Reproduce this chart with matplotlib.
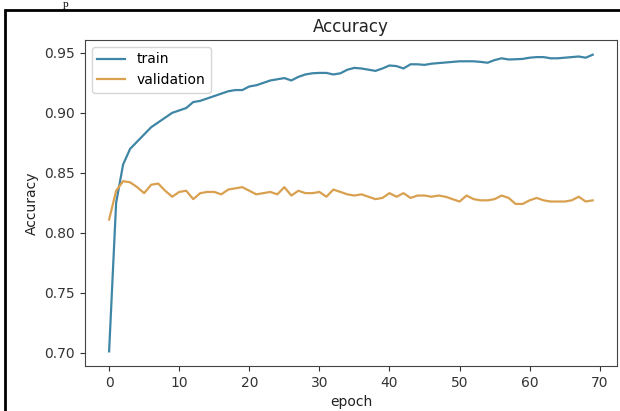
import matplotlib
matplotlib.use("Agg")
import matplotlib.pyplot as plt
from matplotlib.patches import Rectangle

epochs = list(range(70))
train = [0.701, 0.825, 0.857, 0.870, 0.876, 0.882, 0.888, 0.892, 0.896, 0.900,
         0.902, 0.904, 0.909, 0.910, 0.912, 0.914, 0.916, 0.918, 0.919, 0.919,
         0.922, 0.923, 0.925, 0.927, 0.928, 0.929, 0.927, 0.930, 0.932, 0.933,
         0.9333, 0.9333, 0.932, 0.933, 0.936, 0.9375, 0.937, 0.936, 0.935, 0.937,
         0.9395, 0.939, 0.937, 0.9405, 0.9405, 0.940, 0.941, 0.9415, 0.942, 0.9425,
         0.943, 0.943, 0.943, 0.9425, 0.9418, 0.944, 0.9455, 0.9445, 0.9447, 0.945,
         0.946, 0.9465, 0.9465, 0.9455, 0.9455, 0.946, 0.9465, 0.947, 0.946, 0.9485]
validation = [0.811, 0.835, 0.843, 0.842, 0.838, 0.833, 0.840, 0.841, 0.835, 0.830,
              0.834, 0.835, 0.828, 0.833, 0.834, 0.834, 0.832, 0.836, 0.837, 0.838,
              0.835, 0.832, 0.833, 0.834, 0.832, 0.838, 0.831, 0.835, 0.833, 0.833,
              0.834, 0.830, 0.836, 0.834, 0.832, 0.831, 0.832, 0.830, 0.828, 0.829,
              0.833, 0.830, 0.833, 0.829, 0.831, 0.831, 0.830, 0.831, 0.830, 0.828,
              0.826, 0.831, 0.828, 0.827, 0.827, 0.828, 0.831, 0.829, 0.824, 0.824,
              0.827, 0.829, 0.827, 0.826, 0.826, 0.826, 0.827, 0.830, 0.826, 0.827]

fig = plt.figure(figsize=(6.2, 4.11), dpi=100)
ax = fig.add_axes([0.137, 0.109, 0.858, 0.794])
ax.plot(epochs, train, color="#3f86a6", lw=1.6, label="train")
ax.plot(epochs, validation, color="#d9a050", lw=1.6, label="validation")
ax.set_title("Accuracy", color="#222222")
ax.set_xlabel("epoch", color="#222222")
ax.set_ylabel("Accuracy", color="#222222")
ax.set_yticks([0.70, 0.75, 0.80, 0.85, 0.90, 0.95])
ax.set_xticks([0, 10, 20, 30, 40, 50, 60, 70])
ax.tick_params(colors="#333333")
for s in ax.spines.values():
    s.set_color("#444444")
ax.legend(loc="upper left")

# screenshot frame
fig.patches.append(Rectangle((5 / 620, -0.01), 1.0, (411 - 10) / 411 + 0.01,
                             transform=fig.transFigure, fill=False,
                             edgecolor="black", lw=2))
fig.text(63 / 620, 1.0, "p", family="Liberation Serif", fontsize=8,
         ha="left", va="top")

fig.savefig("out.png", dpi=100)
